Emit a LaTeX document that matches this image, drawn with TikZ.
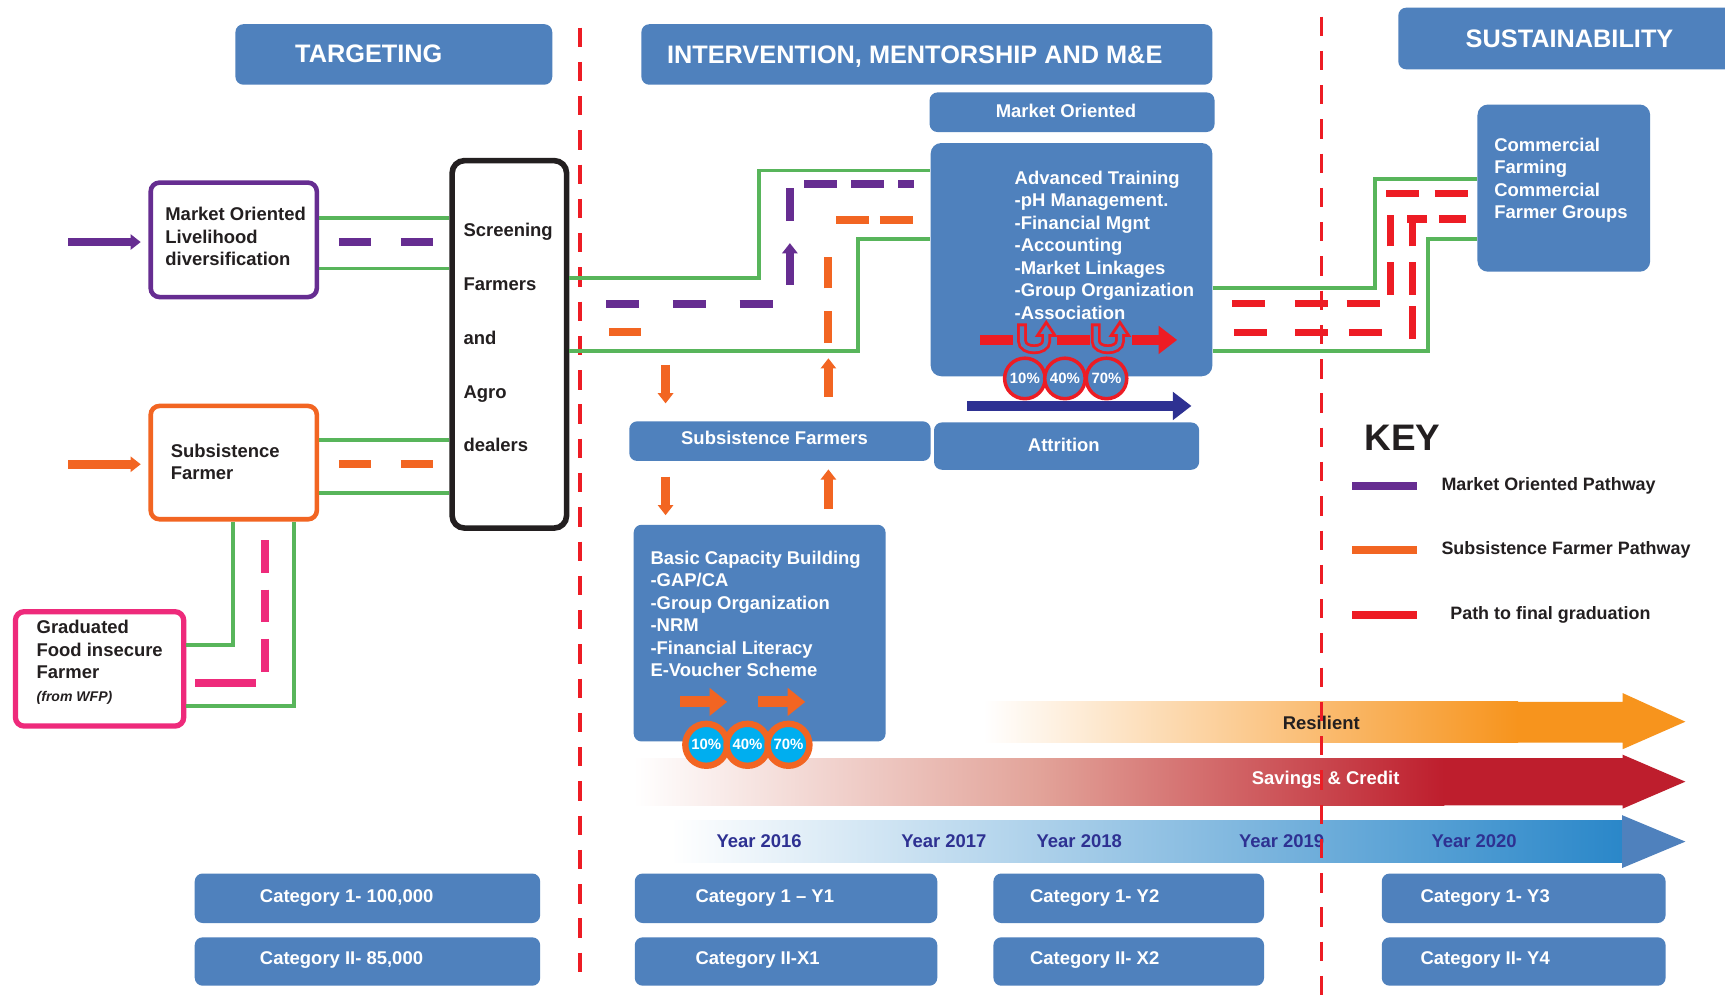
\documentclass[tikz,border=0pt]{standalone}
\usepackage{fontspec}
\setmainfont{Liberation Sans}
\usepackage{xcolor}
\usepackage{tikz}
\usetikzlibrary{arrows.meta,fit,calc,positioning}
\definecolor{boxblue}{HTML}{4F81BD}
\definecolor{pathgreen}{HTML}{58B55B}
\definecolor{mopurple}{HTML}{662D91}
\definecolor{sforange}{HTML}{F26522}
\definecolor{gradred}{HTML}{ED1C24}
\definecolor{wfppink}{HTML}{EE2A7B}
\definecolor{attnavy}{HTML}{2E3192}
\definecolor{pctcyan}{HTML}{00AEEF}
\definecolor{savred}{HTML}{BE1E2D}
\definecolor{savmid}{HTML}{E2A399}
\definecolor{resorange}{HTML}{F7941D}
\definecolor{yearblue}{HTML}{2A87C9}
\definecolor{inkblack}{HTML}{231F20}
\tikzset{
  blu_box/.style={fill=boxblue, rounded corners=4.5pt, inner sep=0pt},
  src_box/.style={draw, fill=white, line width=2.6pt, rounded corners=5pt, inner sep=0pt},
  hdr_txt/.style={text=white, font=\bfseries\fontsize{14.4}{17}\selectfont, inner sep=0pt},
  w_txt/.style={text=white, font=\bfseries\fontsize{10.5}{12.8}\selectfont, align=left, inner sep=0pt},
  b_txt/.style={text=inkblack, font=\bfseries\fontsize{10.5}{12.8}\selectfont, align=left, inner sep=0pt},
  k_txt/.style={b_txt, font=\bfseries\fontsize{10.2}{12.8}\selectfont},
  yr_txt/.style={text=attnavy, font=\bfseries\fontsize{10.5}{12.8}\selectfont, inner sep=0pt},
  grn_ln/.style={draw=pathgreen, line width=2.2pt},
  mo_ln/.style={draw=mopurple, line width=4.6pt},
  sf_ln/.style={draw=sforange, line width=4.6pt},
  pk_ln/.style={draw=wfppink, line width=4.4pt},
  rd_ln/.style={draw=gradred, line width=4.2pt},
  div_ln/.style={draw=gradred, line width=2pt, dash pattern=on 11pt off 8.5pt},
  thin_arr/.style={line width=4.9pt, -{Triangle[length=5.8pt,width=8.6pt]}},
  blk_arr/.style={draw=sforange, line width=6.2pt, -{Triangle[length=10pt,width=15.3pt]}},
  big_arr/.style={line width=5.4pt, -{Triangle[length=10.6pt,width=15.5pt]}},
  pct_r/.style={circle, draw=gradred, line width=2pt, fill=boxblue, minimum size=0.81cm, inner sep=0pt, text=white, font=\bfseries\fontsize{8.5}{10}\selectfont},
  pct_o/.style={circle, draw=sforange, line width=3.6pt, fill=pctcyan, minimum size=0.84cm, inner sep=0pt, text=white, font=\bfseries\fontsize{8.5}{10}\selectfont},
  uturn/.pic={
    \draw[gradred, line width=5.6pt] (-11,-28) -- (-11,-12) .. controls (-11,-2) and (11,-2) .. (11,-12) -- (11,-17);
    \filldraw[fill=boxblue, draw=gradred, line width=1.6pt, line join=miter] (3,-17) -- (19,-17) -- (11,-29) -- cycle;
    \draw[boxblue, line width=2.4pt, shorten <=1.6pt] (-11,-28) -- (-11,-12) .. controls (-11,-2) and (11,-2) .. (11,-12) -- (11,-19);
  }
}
\begin{document}
\begin{tikzpicture}[x=0.022cm, y=-0.022cm]
\fill[white] (0,0) rectangle (1568,908);
\useasboundingbox (0,0) rectangle (1568,908);

\shade[left color=white, right color=resorange] (894,638) rectangle (1380,675);
\fill[resorange] (1379,638) -- (1475,638) -- (1475,630) -- (1532,656) -- (1475,681) -- (1475,675) -- (1379,675) -- cycle;
\shade[left color=white, right color=savred, middle color=savmid] (576,689) rectangle (1313,732);
\fill[savred] (1312,689) -- (1475,689) -- (1475,686) -- (1532,710.5) -- (1475,735) -- (1475,732) -- (1312,732) -- cycle;
\shade[left color=white, right color=yearblue] (610,746) rectangle (1475,784);
\fill[boxblue] (1474.5,741) -- (1532,765) -- (1474.5,789) -- cycle;
\node[b_txt] (res_t) at (1201,657) {Resilient};
\node[w_txt] (sav_t) at (1205,709) {Savings \& Credit};
\node[yr_txt] (y16) at (690,765) {Year 2016};
\node[yr_txt] (y17) at (858,765) {Year 2017};
\node[yr_txt] (y18) at (981,765) {Year 2018};
\node[yr_txt] (y19) at (1165,765) {Year 2019};
\node[yr_txt] (y20) at (1340,765) {Year 2020};

\draw[div_ln] (527,25) -- (527,888);
\draw[div_ln] (1201,15) -- (1201,908);

\node[blu_box, fit={(214,22) (502,77)}] (tgt) {};
\node[hdr_txt, anchor=west] (tgt_t) at (268,49) {TARGETING};
\node[blu_box, fit={(583,22) (1102,77)}] (ivn) {};
\node[hdr_txt, anchor=west] (ivn_t) at (606,51.5) {INTERVENTION, MENTORSHIP AND M\&E};
\node[blu_box, fit={(1271,7) (1600,63)}] (sus) {};
\node[hdr_txt, anchor=west] (sus_t) at (1332,35) {SUSTAINABILITY};
\node[blu_box, fit={(845,84) (1104,120)}] (mkt) {};
\node[w_txt] (mkt_t) at (969,101) {Market Oriented};

\node[src_box, draw=mopurple, fit={(137,166) (288,270)}] (mo) {};
\node[b_txt, anchor=west] (mo_t) at (150,215) {Market Oriented\\Livelihood\\diversification};
\node[src_box, draw=sforange, fit={(137,369) (288,472)}] (sf) {};
\node[b_txt, anchor=west] (sf_t) at (155,420) {Subsistence\\Farmer};
\node[src_box, draw=wfppink, line width=3pt, fit={(14,556) (167,660)}] (gr) {};
\node[b_txt, anchor=west] (gr_t) at (33,602) {Graduated\\Food insecure\\Farmer\\{\fontsize{8}{10}\selectfont\itshape (from WFP)}};
\node[src_box, draw=inkblack, line width=3.2pt, rounded corners=7pt, fit={(411,146) (515,480)}] (scr) {};
\node[b_txt, font=\bfseries\fontsize{10.5}{30.6}\selectfont, anchor=west] (scr_t) at (421,307) {Screening\\Farmers\\and\\Agro\\dealers};

\node[blu_box, rounded corners=6pt, fit={(846,130) (1102,342)}] (at) {};
\node[w_txt, anchor=west] (at_t) at (922,223) {Advanced Training\\-pH Management.\\-Financial Mgnt\\-Accounting\\-Market Linkages\\-Group Organization\\-Association};
\node[blu_box, fit={(572,383) (846,419)}] (sfs) {};
\node[w_txt] (sfs_t) at (704,398) {Subsistence Farmers};
\node[blu_box, fit={(849,384) (1090,427)}] (att) {};
\node[w_txt] (att_t) at (967,404) {Attrition};
\node[blu_box, fit={(576,477) (805,674)}] (bcb) {};
\node[w_txt, anchor=west] (bcb_t) at (591,558) {Basic Capacity Building\\-GAP/CA\\-Group Organization\\-NRM\\-Financial Literacy\\E-Voucher Scheme};
\node[blu_box, rounded corners=6pt, fit={(1343,95) (1500,247)}] (com) {};
\node[w_txt, anchor=west] (com_t) at (1358,164) {Commercial\\Farming\\Commercial\\Farmer Groups};

\node[blu_box, fit={(177,794) (491,839)}] (c1a) {};
\node[w_txt, anchor=west] (c1a_t) at (236,816) {Category 1- 100,000};
\node[blu_box, fit={(177,852) (491,896)}] (c2a) {};
\node[w_txt, anchor=west] (c2a_t) at (236,873) {Category II- 85,000};
\node[blu_box, fit={(577,794) (852,839)}] (c1b) {};
\node[w_txt, anchor=west] (c1b_t) at (632,816) {Category 1 -- Y1};
\node[blu_box, fit={(577,852) (852,896)}] (c2b) {};
\node[w_txt, anchor=west] (c2b_t) at (632,873) {Category II-X1};
\node[blu_box, fit={(903,794) (1149,839)}] (c1c) {};
\node[w_txt, anchor=west] (c1c_t) at (936,816) {Category 1- Y2};
\node[blu_box, fit={(903,852) (1149,896)}] (c2c) {};
\node[w_txt, anchor=west] (c2c_t) at (936,873) {Category II- X2};
\node[blu_box, fit={(1256,794) (1514,839)}] (c1d) {};
\node[w_txt, anchor=west] (c1d_t) at (1291,816) {Category 1- Y3};
\node[blu_box, fit={(1256,852) (1514,896)}] (c2d) {};
\node[w_txt, anchor=west] (c2d_t) at (1291,873) {Category II- Y4};

\draw[thin_arr, mopurple] (mo.west) ++(-73,2) -- ++(66,0);
\draw[thin_arr, sforange] (sf.west) ++(-73,1.5) -- ++(66,0);
\draw[grn_ln] (mo.east |- 0,198) -- (scr.west |- 0,198);
\draw[grn_ln] (mo.east |- 0,244) -- (scr.west |- 0,244);
\draw[mo_ln, dash pattern=on 18.4pt off 16.9pt] (mo.east |- 0,220) ++(18,0) -- ++(86,0);
\draw[grn_ln] (sf.east |- 0,400) -- (scr.west |- 0,400);
\draw[grn_ln] (sf.east |- 0,448) -- (scr.west |- 0,448);
\draw[sf_ln, dash pattern=on 18.4pt off 16.9pt] (sf.east |- 0,422) ++(18,0) -- ++(86,0);
\draw[grn_ln] (sf.south -| 212,0) |- (gr.east |- 0,586);
\draw[grn_ln] (sf.south -| 267,0) |- (gr.east |- 0,642);
\draw[pk_ln, dash pattern=on 18.7pt off 9.4pt] (241,491) -- (241,611);
\draw[pk_ln] (gr.east |- 0,621) ++(8,0) -- (233,621);

\draw[grn_ln] (scr.east |- 0,253) -| (690,155) -- (at.west |- 0,155);
\draw[grn_ln] (scr.east |- 0,319) -| (780,217) -- (at.west |- 0,217);
\draw[mo_ln, dash pattern=on 18.7pt off 19.3pt] (551,276) -- (703,276);
\draw[thin_arr, mopurple] (718,259) -- (718,221);
\draw[mo_ln] (718,201) -- (718,171);
\draw[mo_ln, dash pattern=on 18.7pt off 8.1pt] (731,167) -- (831,167);
\draw[sf_ln] (554,302) -- (583,302);
\draw[sf_ln, dash pattern=on 18.1pt off 13.1pt] (753,312) -- (753,233);
\draw[sf_ln, dash pattern=on 18.7pt off 6.2pt] (760,200) -- (830,200);
\draw[thin_arr, sforange] (sfs.north -| 605,0) ++(0,-51) -- ++(0,35);
\draw[thin_arr, sforange] (sfs.south -| 605,0) ++(0,14) -- ++(0,35);
\draw[thin_arr, sforange] (sfs.north -| 753,0) ++(0,-22) -- ++(0,-35);
\draw[thin_arr, sforange] (bcb.north -| 753,0) ++(0,-14) -- ++(0,-36);

\draw[rd_ln, line width=5.6pt] (891,309) -- (921,309) (961,309) -- (991,309);
\draw[big_arr, gradred] (1029,309) -- (1070,309);
\pic at (940,322) {uturn};
\pic at (1007,322) {uturn};
\node[pct_r] (r10) at (931.6,344) {10\%};
\node[pct_r] (r40) at (968,344) {40\%};
\node[pct_r] (r70) at (1005.8,344) {70\%};
\draw[big_arr, attnavy] (879,369) -- (1083,369);

\draw[blk_arr] (618,638) -- (661,638);
\draw[blk_arr] (689,638) -- (732,638);
\node[pct_o] (o10) at (642,677) {10\%};
\node[pct_o] (o40) at (679.5,677) {40\%};
\node[pct_o] (o70) at (716.7,677) {70\%};

\draw[grn_ln] (at.east |- 0,262) -| (1250,163) -- (com.west |- 0,163);
\draw[grn_ln] (at.east |- 0,319) -| (1298,217) -- (com.west |- 0,217);
\draw[rd_ln] (1120,276) -- (1150,276) (1177,276) -- (1207,276) (1224,276) -- (1254,276)
  (1264,268) -- (1264,238) (1264,224) -- (1264,195) (1260,176) -- (1290,176) (1304,176) -- (1334,176)
  (1122,302) -- (1152,302) (1177,302) -- (1207,302) (1226,302) -- (1256,302)
  (1284,308) -- (1284,278) (1284,268) -- (1284,238) (1284,224) -- (1284,196) (1279,199) -- (1297,199) (1308,199) -- (1333,199);

\node[b_txt, font=\bfseries\fontsize{21}{24}\selectfont, anchor=west] (key) at (1240,398) {KEY};
\node[k_txt, anchor=west] (key_mo) at (1310,442) {Market Oriented Pathway};
\node[k_txt, anchor=west] (key_sf) at (1310,500) {Subsistence Farmer Pathway};
\node[k_txt, anchor=west] (key_rd) at (1318,559) {Path to final graduation};
\draw[mo_ln, line width=4.7pt] (key_mo.west) ++(-22,0) -- ++(-59,0);
\draw[sf_ln, line width=4.7pt] (key_sf.west) ++(-22,0) -- ++(-59,0);
\draw[rd_ln, line width=4.9pt] (key_rd.west) ++(-30,0) -- ++(-59,0);
\end{tikzpicture}
\end{document}
